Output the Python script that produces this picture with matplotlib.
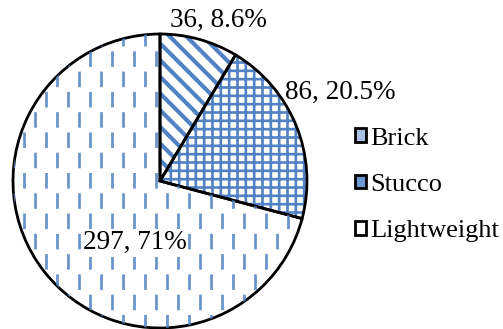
import numpy as np
import matplotlib
matplotlib.use("Agg")
from matplotlib import pyplot as plt
from matplotlib.patches import Patch
from matplotlib.collections import LineCollection

# data
categories = ["Brick", "Stucco", "Lightweight"]
counts = [36, 86, 297]
pct_labels = ["8.6%", "20.5%", "71%"]
hatches = ["\\\\", "++", None]

blue = "#5182C4"
plt.rcParams["font.family"] = ["Liberation Serif", "DejaVu Serif"]
plt.rcParams["hatch.color"] = blue

fig = plt.figure(figsize=(5.03, 3.29), dpi=100)
ax = fig.add_axes([13 / 503, 1 / 329, 294 / 503, 294 / 329])

# fill with pattern, then black outline on top
wedges, _ = ax.pie(counts, startangle=90, counterclock=False, radius=1,
                   colors=["white"] * 3, wedgeprops=dict(linewidth=0, edgecolor=blue))
for w, h, lw in zip(wedges, hatches, [3.0, 1.9, 0]):
    if h:
        w.set_hatch(h)
        try:
            w.set_hatch_linewidth(lw)
        except AttributeError:
            pass

# dashed vertical texture for Lightweight slice
step = 11 / 147
xs = np.arange(-1, 1.01, step)
for i, x in enumerate(xs):
    lc = LineCollection([[(x, -1.05), (x, 1.05)]], colors=blue, linewidths=2.0,
                        linestyles=[(0 if i % 2 == 0 else 7.3, (5.6, 9.0))], alpha=0.85)
    ax.add_collection(lc)
    lc.set_clip_path(wedges[2])

ax.pie(counts, startangle=90, counterclock=False, radius=1,
       colors=["none"] * 3, wedgeprops=dict(linewidth=2, edgecolor="black"))

ax.set_xlim(-1, 1)
ax.set_ylim(-1, 1)
ax.set_aspect("equal")
ax.axis("off")

# labels
label_pos = [(0.395, 1.095), (1.224, 0.605), (-0.17, -0.42)]
for c, p, (lx, ly) in zip(counts, pct_labels, label_pos):
    t = ax.text(lx, ly, "{}, {}".format(c, p), ha="center", va="center", fontsize=19.5)
    if c == 297:
        t.set_bbox(dict(facecolor="white", edgecolor="none", pad=1))

handle_colors = ["#A9C0E4", "#6F98D2", "white"]
handles = [Patch(facecolor=fc, edgecolor="black", linewidth=2) for fc in handle_colors]
fig.legend(handles, categories, loc="center left", bbox_to_anchor=(355 / 503, (329 - 185) / 329),
           frameon=False, fontsize=19, handlelength=0.42, handleheight=0.42,
           handletextpad=0.15, labelspacing=0.92, borderaxespad=0, borderpad=0)

fig.savefig("out.png", dpi=100)
